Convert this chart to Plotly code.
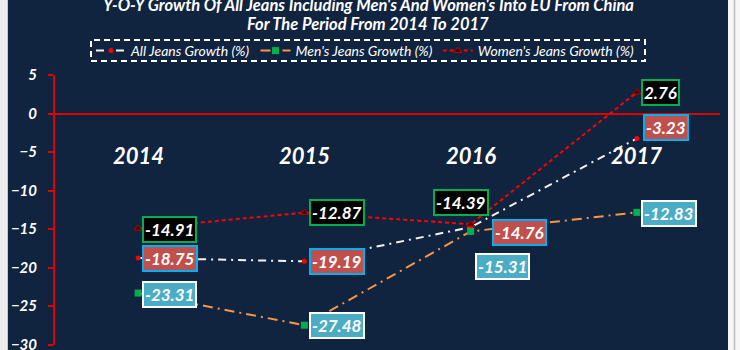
import plotly.graph_objects as go

# Year-on-year growth of jeans imports into the EU from China
years = ["2014", "2015", "2016", "2017"]
all_jeans = [-18.75, -19.19, -14.76, -3.23]
mens_jeans = [-23.31, -27.48, -15.31, -12.83]
womens_jeans = [-14.91, -12.87, -14.39, 2.76]

y_ticks = [5, 0, -5, -10, -15, -20, -25, -30]

NAVY = "#10233F"
RED = "#E00000"
FONT = "Lato"

W, H = 740, 350
ML, MR, MT, MB = 55, 20, 75, 5
PW, PH = W - ML - MR, H - MT - MB


def px_x(px):
    return (px - ML) / PW


def px_y(py):
    return (H - MB - py) / PH


fig = go.Figure()

fig.add_trace(go.Scatter(
    x=years, y=all_jeans, name="All Jeans Growth (%)", mode="lines+markers",
    line=dict(color="#F2F2F2", width=2, dash="8px,5px,2px,5px"),
    marker=dict(symbol="circle", size=5, color="#FF0000"),
))
fig.add_trace(go.Scatter(
    x=years, y=mens_jeans, name="Men's Jeans Growth (%)", mode="lines+markers",
    line=dict(color="#F79646", width=2, dash="10px,5px,2px,5px"),
    marker=dict(symbol="square", size=7, color="#00B050"),
))
fig.add_trace(go.Scatter(
    x=years, y=womens_jeans, name="Women's Jeans Growth (%)", mode="lines+markers",
    line=dict(color="#FF0000", width=2, dash="4px,3px"),
    marker=dict(symbol="triangle-up", size=7, color="#3A0505",
                line=dict(color="#C00000", width=1)),
))

# value label styles per series: (fill, border, per-point (xanchor, xshift, yshift))
label_specs = [
    (all_jeans, "#C0504D", "#00B0F0",
     [("left", 4, -1), ("left", 5, 0), ("left", 21, -5), ("left", 6, 11)]),
    (mens_jeans, "#4BACC6", "#FFFFFF",
     [("left", 4, -1), ("left", 5, 0), ("left", 4, -35), ("left", 4, -1)]),
    (womens_jeans, "#000000", "#00B050",
     [("left", 4, -1), ("left", 5, 0), ("center", -10, 22), ("left", 4, 0)]),
]

# category positions on the x axis are the year indices
for values, fill, border, offs in label_specs:
    for i, (v, (xa, xs, ys)) in enumerate(zip(values, offs)):
        fig.add_annotation(
            x=i, y=v, xref="x", yref="y", text=f"{v:.2f}", showarrow=False,
            xanchor=xa, yanchor="middle", xshift=xs, yshift=ys,
            bgcolor=fill, bordercolor=border, borderwidth=2, borderpad=1,
            font=dict(family=FONT, size=17, color="white", weight="bold", style="italic"),
        )

# large year captions inside the plot
for i, yr in enumerate(years):
    fig.add_annotation(
        x=i, y=-5.4, xref="x", yref="y", text=yr, showarrow=False,
        xanchor="center", yanchor="middle",
        font=dict(family=FONT, size=22, color="white", weight="bold", style="italic"),
    )

# two-line title
title_lines = [
    "Y-O-Y Growth Of All Jeans Including Men's And Women's Into EU From China",
    "For The Period From 2014 To 2017",
]
for line, py in zip(title_lines, [5, 24]):
    fig.add_annotation(
        x=px_x(368), y=px_y(py), xref="paper", yref="paper", text=line,
        showarrow=False, xanchor="center", yanchor="middle",
        font=dict(family=FONT, size=16.5, color="white", weight="bold", style="italic"),
    )

# dashed legend frame and page edges
fig.add_shape(type="rect", xref="paper", yref="paper",
              x0=px_x(91), x1=px_x(645), y0=px_y(61), y1=px_y(40),
              line=dict(color="white", width=2, dash="6px,4px"))
fig.add_shape(type="rect", xref="paper", yref="paper",
              x0=px_x(0), x1=px_x(8), y0=px_y(H), y1=px_y(0),
              line=dict(width=0), fillcolor="#EDEDED")
fig.add_shape(type="rect", xref="paper", yref="paper",
              x0=px_x(728), x1=px_x(W), y0=px_y(H), y1=px_y(0),
              line=dict(width=0), fillcolor="#F7F7F7")
fig.add_shape(type="line", xref="paper", yref="paper",
              x0=px_x(734.5), x1=px_x(734.5), y0=px_y(H), y1=px_y(0),
              line=dict(color="#BDBDBD", width=1.5))
fig.add_shape(type="line", xref="paper", yref="paper",
              x0=px_x(7.5), x1=px_x(7.5), y0=px_y(H), y1=px_y(0),
              line=dict(color="#C8C8C8", width=1))

fig.update_layout(
    width=W, height=H,
    margin=dict(l=ML, r=MR, t=MT, b=MB, pad=0, autoexpand=False),
    paper_bgcolor=NAVY, plot_bgcolor=NAVY,
    showlegend=True,
    legend=dict(
        orientation="h", x=px_x(91), y=px_y(51), xanchor="left", yanchor="middle",
        bgcolor="rgba(0,0,0,0)", borderwidth=0,
        font=dict(family=FONT, size=14, color="white", style="italic"),
        itemwidth=30, tracegroupgap=0,
    ),
    xaxis=dict(
        type="category", range=[-0.5, 3.5], showgrid=False, zeroline=False,
        showline=False, showticklabels=False, ticks="", automargin=False,
    ),
    yaxis=dict(
        range=[-30.05, 5], tickvals=y_ticks, showgrid=False,
        showline=True, linecolor=RED, linewidth=2,
        ticks="outside", ticklen=5, tickwidth=2, tickcolor=RED,
        zeroline=True, zerolinecolor=RED, zerolinewidth=2,
        ticklabelstandoff=8, ticklabeloverflow="allow", automargin=False,
        tickfont=dict(family=FONT, size=15, color="white", weight="bold", style="italic"),
    ),
)

fig.write_html("out.html")
